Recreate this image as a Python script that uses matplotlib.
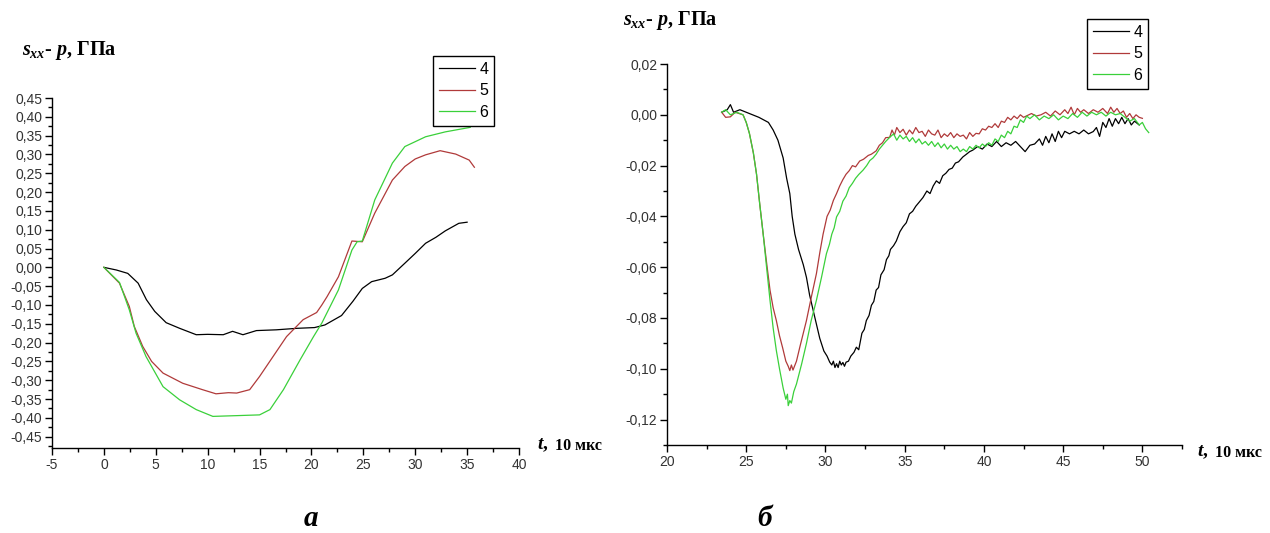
import matplotlib
matplotlib.use("Agg")
import matplotlib.pyplot as plt
from matplotlib.ticker import FuncFormatter, MultipleLocator, AutoMinorLocator

plt.rcParams['mathtext.fontset'] = 'custom'
plt.rcParams['mathtext.it'] = 'Liberation Serif:italic:bold'
plt.rcParams['mathtext.rm'] = 'Liberation Serif:bold'
plt.rcParams['mathtext.bf'] = 'Liberation Serif:bold'

# ---------------- data: panel a ----------------
a4_t = [0, 1.2, 2.3, 3.3, 4.1, 4.9, 6.0, 7.3, 8.9, 10.0, 11.5, 12.4, 13.4, 14.7, 16.6,
        18.6, 20.3, 21.3, 22.9, 24.0, 24.9, 25.8, 27.1, 27.8, 29.0, 30.0, 31.0, 32.0,
        32.9, 34.2, 35.0]
a4_v = [0, -0.007, -0.016, -0.042, -0.086, -0.117, -0.147, -0.162, -0.179, -0.178,
        -0.179, -0.170, -0.179, -0.168, -0.166, -0.162, -0.160, -0.153, -0.128, -0.090,
        -0.056, -0.038, -0.029, -0.020, 0.011, 0.037, 0.064, 0.080, 0.097, 0.117, 0.120]

a5_t = [0, 1.5, 2.45, 2.93, 3.74, 4.6, 5.7, 7.6, 9.5, 10.8, 12.0, 12.8, 14.05, 15.0,
        16.3, 17.6, 19.2, 20.5, 21.0, 21.5, 22.6, 23.9, 24.9, 26.1, 27.8, 29.0, 30.0,
        31.0, 32.4, 33.9, 35.2, 35.7]
a5_v = [0, -0.042, -0.104, -0.157, -0.21, -0.25, -0.281, -0.308, -0.325, -0.336, -0.333,
        -0.334, -0.325, -0.29, -0.237, -0.184, -0.139, -0.12, -0.1, -0.078, -0.025, 0.07,
        0.068, 0.144, 0.232, 0.268, 0.288, 0.299, 0.31, 0.301, 0.285, 0.266]

a6_t = [0, 1.5, 2.45, 3.1, 4.06, 5.7, 7.3, 8.9, 10.5, 12.8, 15.0, 16.0, 17.3, 18.9,
        20.2, 21.0, 22.6, 23.9, 24.4, 24.9, 26.1, 27.8, 29.0, 31.0, 32.9, 35.3]
a6_v = [0, -0.04, -0.113, -0.175, -0.237, -0.317, -0.352, -0.378, -0.396, -0.394, -0.392,
        -0.378, -0.325, -0.246, -0.184, -0.148, -0.06, 0.046, 0.068, 0.07, 0.179, 0.277,
        0.321, 0.347, 0.36, 0.372]

# ---------------- data: panel б ----------------
b4_t = [23.45, 23.8, 24.0, 24.2, 24.6, 25.0, 25.4, 25.8, 26.1, 26.4, 26.7, 27.0, 27.33,
        27.55, 27.75, 27.9, 28.07, 28.3, 28.6, 28.8, 29.0, 29.3, 29.64, 29.9, 30.1, 30.27,
        30.4, 30.5, 30.6, 30.7, 30.8, 30.9, 31.0, 31.1, 31.2, 31.3, 31.45, 31.6, 31.8,
        31.95, 32.1, 32.3, 32.45, 32.58, 32.75, 32.9, 33.05, 33.2, 33.35, 33.5, 33.7,
        33.85, 34.0, 34.1, 34.3, 34.47, 34.7, 34.9, 35.1, 35.3, 35.5, 35.7, 35.9,
        36.15, 36.4, 36.6, 36.8, 37.0, 37.2, 37.4, 37.6, 37.8, 38.0, 38.2, 38.4, 38.67,
        38.9, 39.1, 39.3, 39.6, 39.9, 40.2, 40.5, 40.8, 41.1, 41.4, 41.7, 42.0, 42.3, 42.6,
        42.9, 43.2, 43.5, 43.7, 43.9, 44.1, 44.3, 44.5, 44.7, 44.9, 45.1, 45.4, 45.7, 46.0,
        46.3, 46.6, 46.9, 47.1, 47.3, 47.5, 47.7, 47.9, 48.1, 48.3, 48.5, 48.7, 48.9,
        49.1, 49.3, 49.5, 49.8]
b4_v = [0.001, 0.002, 0.004, 0.001, 0.002, 0.001, 0.000, -0.001, -0.002, -0.003, -0.006,
        -0.010, -0.017, -0.025, -0.031, -0.040, -0.047, -0.053, -0.059, -0.064, -0.071,
        -0.079, -0.088, -0.093, -0.095, -0.0974, -0.0985, -0.097, -0.0995, -0.098, -0.0995,
        -0.097, -0.0985, -0.0975, -0.099, -0.0974, -0.097, -0.095, -0.0935, -0.0915,
        -0.0925, -0.086, -0.0845, -0.081, -0.079, -0.075, -0.0735, -0.069, -0.068, -0.063,
        -0.061, -0.057, -0.0555, -0.053, -0.0515, -0.0497, -0.046, -0.044, -0.0425, -0.039,
        -0.038, -0.036, -0.0345, -0.0326, -0.030, -0.031, -0.028, -0.026, -0.027, -0.024,
        -0.023, -0.0215, -0.021, -0.019, -0.0185, -0.0166, -0.0155, -0.0145, -0.0139,
        -0.0125, -0.0135, -0.0115, -0.0125, -0.0105, -0.0125, -0.011, -0.012, -0.0105,
        -0.0125, -0.0145, -0.012, -0.0115, -0.0095, -0.012, -0.0085, -0.011, -0.0075,
        -0.0105, -0.0065, -0.009, -0.0065, -0.0075, -0.0065, -0.0075, -0.006, -0.0075,
        -0.0066, -0.005, -0.0085, -0.003, -0.005, -0.0015, -0.0045, -0.0015, -0.0035,
        -0.001, -0.0035, -0.0015, -0.004, -0.0025, -0.004]

b5_t = [23.45, 23.7, 24.0, 24.3, 24.8, 25.0, 25.2, 25.45, 25.65, 25.85, 26.07, 26.3, 26.5,
        26.7, 26.9, 27.1, 27.3, 27.5, 27.65, 27.75, 27.85, 27.95, 28.17, 28.4, 28.6, 28.8,
        29.1, 29.43, 29.65, 29.85, 30.1, 30.3, 30.5, 30.7, 30.9, 31.1, 31.3, 31.5, 31.7,
        31.9, 32.16, 32.4, 32.7, 32.9, 33.2, 33.4, 33.6, 33.8, 34.05, 34.2, 34.35, 34.5,
        34.7, 34.9, 35.1, 35.3, 35.5, 35.7, 35.9, 36.1, 36.3, 36.5, 36.7, 36.9, 37.1, 37.3,
        37.5, 37.7, 37.9, 38.1, 38.3, 38.5, 38.7, 38.9, 39.1, 39.3, 39.5, 39.7, 39.9, 40.1,
        40.3, 40.5, 40.7, 40.9, 41.1, 41.3, 41.5, 41.7, 41.9, 42.1, 42.3, 42.5, 43.0, 43.3,
        43.6, 43.9, 44.2, 44.5, 44.8, 45.1, 45.3, 45.5, 45.7, 45.9, 46.1, 46.3, 46.6, 46.9,
        47.2, 47.5, 47.8, 48.0, 48.2, 48.4, 48.6, 48.8, 49.0, 49.2, 49.4, 49.6, 49.8, 50.0]
b5_v = [0.001, -0.001, -0.0008, 0.001, 0.0, -0.003, -0.0073, -0.015, -0.0234, -0.035,
        -0.047, -0.059, -0.069, -0.076, -0.081, -0.087, -0.0918, -0.097, -0.099, -0.1007,
        -0.0985, -0.1005, -0.097, -0.091, -0.086, -0.081, -0.072, -0.0625, -0.054, -0.047,
        -0.040, -0.0375, -0.0337, -0.031, -0.028, -0.0255, -0.0234, -0.022, -0.020, -0.0205,
        -0.0182, -0.0175, -0.016, -0.0155, -0.0142, -0.012, -0.011, -0.009, -0.0089, -0.006,
        -0.008, -0.005, -0.007, -0.0057, -0.008, -0.006, -0.0075, -0.005, -0.007, -0.0065,
        -0.0085, -0.006, -0.0075, -0.008, -0.006, -0.009, -0.0075, -0.0085, -0.007, -0.009,
        -0.0075, -0.0085, -0.008, -0.0095, -0.007, -0.0085, -0.0073, -0.0075, -0.0055,
        -0.006, -0.0045, -0.005, -0.0035, -0.005, -0.0025, -0.003, -0.001, -0.002, -0.0005,
        -0.0015, 0.0, -0.001, 0.0005, -0.0005, 0.0, 0.001, -0.0005, 0.0015, 0.0, 0.002,
        0.0005, 0.003, 0.0, 0.0025, 0.001, 0.002, 0.0005, 0.002, 0.001, 0.0025, 0.0005,
        0.003, 0.001, 0.0025, 0.0005, 0.0015, -0.001, 0.0005, -0.0015, 0.0, -0.001, -0.0014]

b6_t = [23.45, 23.7, 24.0, 24.4, 24.8, 25.0, 25.2, 25.45, 25.65, 25.85, 26.07, 26.3, 26.5,
        26.7, 26.9, 27.1, 27.33, 27.5, 27.6, 27.65, 27.75, 27.85, 28.0, 28.17, 28.5, 28.8,
        29.1, 29.43, 29.75, 30.06, 30.25, 30.4, 30.55, 30.7, 30.9, 31.1, 31.3, 31.5, 31.7,
        31.9, 32.1, 32.37, 32.6, 32.8, 33.0, 33.2, 33.4, 33.6, 33.8, 34.05, 34.3, 34.5,
        34.7, 34.9, 35.1, 35.3, 35.5, 35.7, 35.9, 36.1, 36.3, 36.5, 36.7, 36.9, 37.1, 37.3,
        37.5, 37.7, 37.9, 38.1, 38.3, 38.5, 38.7, 38.9, 39.1, 39.3, 39.5, 39.7, 39.9, 40.1,
        40.3, 40.5, 40.7, 40.9, 41.1, 41.3, 41.5, 41.7, 41.9, 42.1, 42.3, 42.5, 42.7, 42.9,
        43.2, 43.5, 43.8, 44.1, 44.4, 44.7, 45.0, 45.3, 45.6, 45.9, 46.2, 46.5, 46.8, 47.1,
        47.4, 47.7, 48.0, 48.3, 48.6, 48.9, 49.2, 49.5, 49.8, 50.0, 50.2, 50.4]
b6_v = [0.001, 0.002, 0.0, 0.001, 0.0, -0.003, -0.0073, -0.015, -0.0234, -0.035, -0.047,
        -0.061, -0.073, -0.084, -0.0928, -0.100, -0.1076, -0.112, -0.110, -0.1145, -0.1125,
        -0.1135, -0.109, -0.106, -0.098, -0.090, -0.081, -0.073, -0.064, -0.0547, -0.051,
        -0.047, -0.0445, -0.0402, -0.038, -0.034, -0.032, -0.0287, -0.027, -0.025, -0.0235,
        -0.0218, -0.020, -0.018, -0.017, -0.0155, -0.0135, -0.012, -0.0105, -0.0089,
        -0.0075, -0.010, -0.008, -0.0095, -0.0085, -0.0105, -0.009, -0.011, -0.0095,
        -0.0115, -0.0105, -0.012, -0.0105, -0.0125, -0.011, -0.013, -0.0115, -0.0135,
        -0.012, -0.0135, -0.0125, -0.0145, -0.0135, -0.0145, -0.0125, -0.0135, -0.012,
        -0.013, -0.0115, -0.0125, -0.011, -0.012, -0.0095, -0.0105, -0.008, -0.009, -0.0065,
        -0.0075, -0.0045, -0.005, -0.002, -0.003, -0.0005, -0.0015, 0.0, -0.002, -0.0005,
        -0.0015, 0.0, -0.002, -0.0005, -0.0015, 0.0005, -0.001, 0.001, -0.0005, 0.001, 0.0,
        0.001, -0.0005, 0.001, 0.0, 0.0005, -0.001, -0.0025, -0.0015, -0.004, -0.003,
        -0.0055, -0.007]

series_labels = ['4', '5', '6']
series_colors = ['#000000', '#b03a3a', '#3ad03a']
panel_labels = ['а', 'б']
ylabel_text = r'$s_{xx}$- $p$, ГПа'
xlabel_t = r'$t$,'
xlabel_unit = '10 мкс'

W, H = 1270, 533
fig = plt.figure(figsize=(W / 100, H / 100), dpi=100)
fig.patch.set_facecolor('white')


def box(l, r, t, b):
    return [l / W, 1 - b / H, (r - l) / W, (b - t) / H]


axA = fig.add_axes(box(52, 519, 98, 448))
axB = fig.add_axes(box(667, 1182, 64, 445))

comma2 = FuncFormatter(lambda v, p: ('%.2f' % v).replace('.', ',').replace('-0,00', '0,00'))
intfmt = FuncFormatter(lambda v, p: '%d' % round(v))

tick_color = '#333333'
for ax in (axA, axB):
    for s in ('top', 'right'):
        ax.spines[s].set_visible(False)
    for s in ('left', 'bottom'):
        ax.spines[s].set_linewidth(1.0)
    ax.tick_params(which='major', direction='out', length=5, width=1.0,
                   labelsize=10, labelcolor=tick_color, pad=2)
    ax.tick_params(which='minor', direction='out', length=3, width=1.0)
    ax.xaxis.set_major_locator(MultipleLocator(5))
    ax.xaxis.set_minor_locator(AutoMinorLocator(2))
    ax.yaxis.set_minor_locator(AutoMinorLocator(2))
    ax.xaxis.set_major_formatter(intfmt)
    ax.yaxis.set_major_formatter(comma2)

axA.set_xlim(-5, 40)
axA.set_ylim(-0.48, 0.45)
axA.yaxis.set_major_locator(MultipleLocator(0.05))

axB.set_xlim(20, 52.5)
axB.set_ylim(-0.13, 0.02)
axB.yaxis.set_major_locator(MultipleLocator(0.02))

for ax in (axA, axB):
    for lab in ax.get_xticklabels() + ax.get_yticklabels():
        lab.set_fontfamily('Liberation Sans')

for t, v, c, l in zip([a4_t, a5_t, a6_t], [a4_v, a5_v, a6_v], series_colors, series_labels):
    axA.plot(t, v, color=c, lw=0.9, label=l)
for t, v, c, l in zip([b4_t, b5_t, b6_t], [b4_v, b5_v, b6_v], series_colors, series_labels):
    axB.plot(t, v, color=c, lw=0.9, label=l)

leg_kw = dict(loc='upper left', fontsize=11.5, handlelength=2.25, handletextpad=0.3,
              borderpad=0.35, labelspacing=0.42, fancybox=False, framealpha=1,
              edgecolor='black', borderaxespad=0)
legA = axA.legend(bbox_to_anchor=(433 / W, 1 - 56 / H), bbox_transform=fig.transFigure, **leg_kw)
legB = axB.legend(bbox_to_anchor=(1087 / W, 1 - 19 / H), bbox_transform=fig.transFigure, **leg_kw)
for leg in (legA, legB):
    leg.get_frame().set_linewidth(1.0)
    for txt in leg.get_texts():
        txt.set_fontfamily('Liberation Sans')


def ftext(x, y, s, **kw):
    fig.text(x / W, 1 - y / H, s, **kw)


lab_kw = dict(fontfamily='Liberation Serif', fontweight='bold', fontsize=14.5, va='center', ha='left')
ftext(22, 51, ylabel_text, **lab_kw)
ftext(623, 20, ylabel_text, **lab_kw)

tkw = dict(fontfamily='Liberation Serif', fontweight='bold', fontsize=14, va='center', ha='left')
ukw = dict(fontfamily='Liberation Serif', fontweight='bold', fontsize=11.5, va='center', ha='left')
ftext(537, 445, xlabel_t, **tkw)
ftext(555, 446, xlabel_unit, **ukw)
ftext(1197, 452, xlabel_t, **tkw)
ftext(1215, 453, xlabel_unit, **ukw)

pkw = dict(fontfamily='Liberation Serif', fontweight='bold', fontstyle='italic',
           fontsize=21, va='center', ha='center')
ftext(311, 518, panel_labels[0], **pkw)
ftext(765, 518, panel_labels[1], **pkw)

fig.savefig('out.png', dpi=100, facecolor='white')
